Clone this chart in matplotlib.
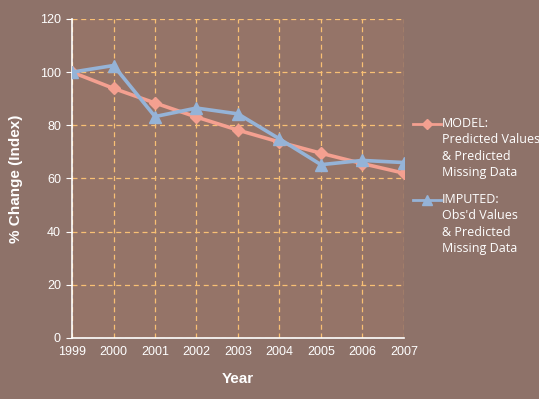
import matplotlib.pyplot as plt
from matplotlib.lines import Line2D

years = [1999, 2000, 2001, 2002, 2003, 2004, 2005, 2006, 2007]
model = [100, 93.9, 88.4, 83.1, 78.2, 73.7, 69.5, 65.6, 62.0]
imputed = [100, 102.5, 83.3, 86.5, 84.3, 74.9, 65.2, 66.8, 66.0]
yticks = [0, 20, 40, 60, 80, 100, 120]

model_label = "MODEL:\nPredicted Values\n& Predicted\nMissing Data"
imputed_label = "IMPUTED:\nObs'd Values\n& Predicted\nMissing Data"

pink = '#f4a090'
blue = '#95b3d7'
gridc = '#f9c074'
bg = '#8e7269'
plotbg = '#957468'

plt.rcParams['font.family'] = ['Liberation Sans', 'DejaVu Sans']

fig = plt.figure(figsize=(5.39, 3.99), dpi=100, facecolor=bg)
ax = fig.add_axes([0.1336, 0.1529, 0.6159, 0.7995])
ax.set_facecolor(plotbg)

ax.plot(years, model, color=pink, lw=2.6, marker='D', ms=6, mec=pink, mfc=pink, zorder=3)
ax.plot(years, imputed, color=blue, lw=2.6, marker='^', ms=8, mec=blue, mfc=blue, zorder=4)

ax.set_xlim(1999, 2007)
ax.set_ylim(0, 120)
ax.set_yticks(yticks)
ax.set_xticks(years)
ax.grid(True, color=gridc, ls=(0, (4, 3)), lw=0.9)
ax.set_axisbelow(True)

for s in ['top', 'right']:
    ax.spines[s].set_visible(False)
ax.spines['left'].set_color('white')
ax.spines['bottom'].set_color('white')
ax.spines['left'].set_linewidth(1.2)
ax.spines['bottom'].set_linewidth(1.2)
ax.tick_params(axis='y', colors='white', labelsize=9, length=4, pad=4)
ax.tick_params(axis='x', colors='white', labelsize=9, length=0, pad=6)

ax.set_xlabel('Year', color='white', fontsize=11, fontweight='bold', labelpad=10)
ax.set_ylabel('% Change (Index)', color='white', fontsize=11, fontweight='bold', labelpad=12)

# legend drawn by hand so the marker sits on the first text line
for y0, col, mk, ms, lab in [(124, pink, 'D', 5, model_label),
                             (200, blue, '^', 7, imputed_label)]:
    fy = 1 - y0 / 399
    fig.add_artist(Line2D([413 / 539, 441 / 539], [fy, fy], color=col, lw=2,
                          transform=fig.transFigure))
    fig.add_artist(Line2D([427 / 539], [fy], color=col, marker=mk, ms=ms,
                          transform=fig.transFigure))
    fig.text(442 / 539, fy + 7 / 399, lab, color='white', fontsize=9,
             family=['Open Sans', 'DejaVu Sans'], va='top', ha='left',
             linespacing=1.35)

fig.savefig('out.png', dpi=100, facecolor=bg)
